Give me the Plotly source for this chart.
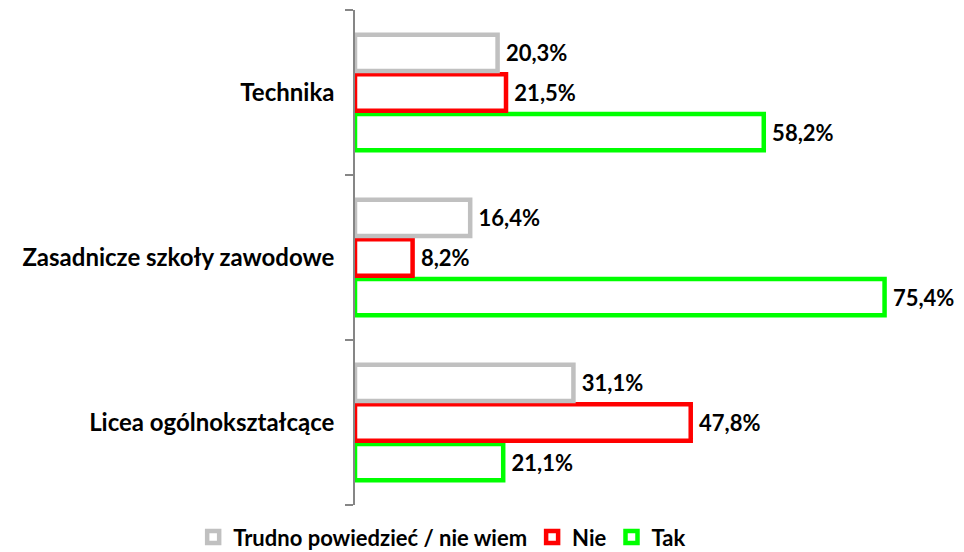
import plotly.graph_objects as go

categories = ["Licea ogólnokształcące", "Zasadnicze szkoły zawodowe", "Technika"]
series_names = ["Trudno powiedzieć / nie wiem", "Nie", "Tak"]
trudno = [31.1, 16.4, 20.3]
nie = [47.8, 8.2, 21.5]
tak = [21.1, 75.4, 58.2]
colors = {"Trudno powiedzieć / nie wiem": "#C0C0C0", "Nie": "#FF0000", "Tak": "#00FF00"}

FONT = "Lato"
fig = go.Figure()
# plotly draws first trace lowest in a horizontal group; add Tak first
for name, vals in [("Tak", tak), ("Nie", nie), ("Trudno powiedzieć / nie wiem", trudno)]:
    fig.add_trace(go.Bar(
        y=categories, x=vals, name=name, orientation="h",
        marker=dict(color="white", line=dict(color=colors[name], width=4.5)),
        text=[("\u00a0" + f"{v:.1f}".replace(".", ",") + "%") for v in vals],
        textposition="outside", cliponaxis=False,
        textfont=dict(family=FONT, size=22, color="black", weight="bold"),
    ))

fig.update_layout(
    width=956, height=544,
    margin=dict(l=347, r=12, t=2, b=47, autoexpand=False),
    paper_bgcolor="white", plot_bgcolor="white",
    barmode="group", bargap=0.28, bargroupgap=0.08,
    showlegend=True,
    legend=dict(orientation="h", x=0.146, xanchor="center", y=-0.065, yanchor="middle",
                traceorder="reversed", itemwidth=30,
                font=dict(family=FONT, size=22, color="black", weight="bold")),
    xaxis=dict(range=[0, 85], visible=False, showgrid=False, zeroline=False),
    yaxis=dict(showline=True, linecolor="#868686", linewidth=1.5, ticks="outside",
               tickson="boundaries", ticklen=8, tickcolor="#868686", tickwidth=1.5,
               showgrid=False, tickfont=dict(family=FONT, size=24, color="black", weight="bold"),
               ticklabelstandoff=14),
)
fig.write_html("out.html")
